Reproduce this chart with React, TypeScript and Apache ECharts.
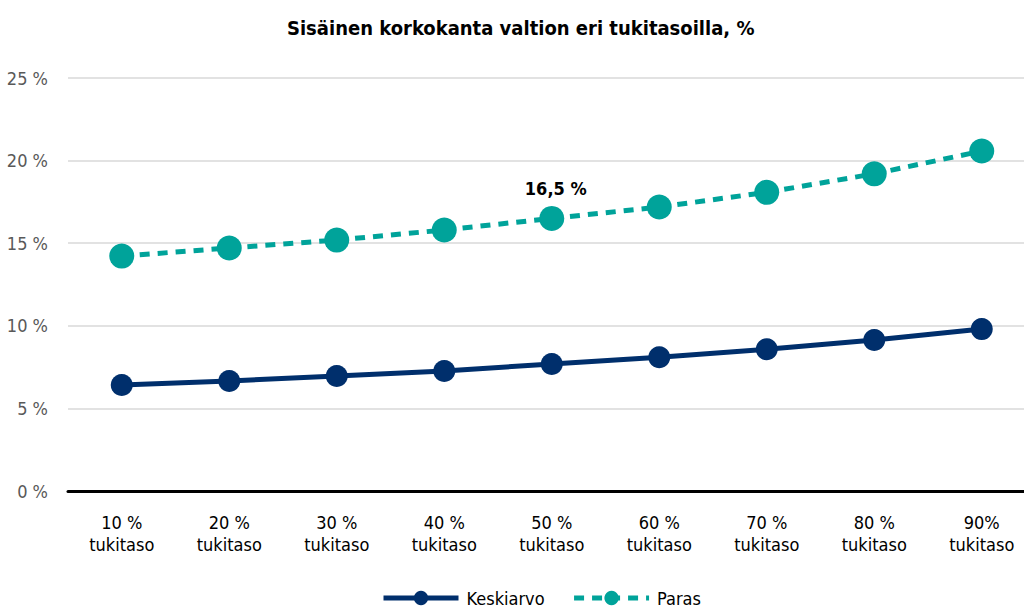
import React, { useEffect, useRef } from "react";
import * as echarts from "echarts";

const categories = [
  "10 %\ntukitaso",
  "20 %\ntukitaso",
  "30 %\ntukitaso",
  "40 %\ntukitaso",
  "50 %\ntukitaso",
  "60 %\ntukitaso",
  "70 %\ntukitaso",
  "80 %\ntukitaso",
  "90%\ntukitaso",
];
const keskiarvo = [6.42, 6.66, 6.96, 7.26, 7.69, 8.1, 8.58, 9.14, 9.8];
const paras = [14.22, 14.71, 15.19, 15.8, 16.5, 17.19, 18.08, 19.2, 20.58];
const labelIndex = 4;
const yTicks = [0, 5, 10, 15, 20, 25];

const FONT = '"DejaVu Sans Condensed", "Liberation Sans Narrow", "Roboto", sans-serif';

export default function App() {
  const ref = useRef<HTMLDivElement>(null);
  useEffect(() => {
    if (!ref.current) return;
    const chart = echarts.init(ref.current, undefined, { renderer: "svg" });
    chart.setOption({
      animation: false,
      textStyle: { fontFamily: FONT },
      title: {
        text: "Sisäinen korkokanta valtion eri tukitasoilla, %",
        left: 282,
        top: 13,
        textStyle: { fontFamily: FONT, fontWeight: "bold", fontSize: 20, color: "#000" },
      },
      legend: {
        bottom: 0,
        left: 376,
        itemWidth: 75,
        itemHeight: 18,
        itemGap: 27,
        lineStyle: { width: 5 },
        textStyle: { fontFamily: FONT, fontSize: 18, color: "#000", padding: [0, 0, 0, 3] },
        data: ["Keskiarvo", "Paras"],
      },
      grid: { left: 68, top: 78, right: 4.5, height: 413, containLabel: false },
      xAxis: {
        type: "category",
        data: categories,
        boundaryGap: true,
        axisLine: { show: true, lineStyle: { color: "#000", width: 3 } },
        axisTick: { show: false },
        axisLabel: {
          fontFamily: FONT,
          fontSize: 18,
          color: "#000",
          lineHeight: 22,
          margin: 20,
          interval: 0,
        },
      },
      yAxis: {
        type: "value",
        min: yTicks[0],
        max: yTicks[yTicks.length - 1],
        interval: 5,
        axisLine: { show: false },
        axisTick: { show: false },
        splitLine: { lineStyle: { color: "#d9d9d9", width: 1.5 } },
        axisLabel: {
          fontFamily: FONT,
          fontSize: 18,
          color: "#595959",
          margin: 20,
          formatter: (v: number) => `${v} %`,
        },
      },
      series: [
        {
          name: "Keskiarvo",
          type: "line",
          data: keskiarvo,
          symbol: "circle",
          symbolSize: 22,
          itemStyle: { color: "#002f6c" },
          lineStyle: { color: "#002f6c", width: 5 },
          z: 3,
        },
        {
          name: "Paras",
          type: "line",
          data: paras.map((v, i) =>
            i === labelIndex
              ? {
                  value: v,
                  label: {
                    show: true,
                    position: "top",
                    distance: 8,
                    offset: [4, 0],
                    formatter: (p: any) => `${String(p.value).replace(".", ",")} %`,
                    fontFamily: FONT,
                    fontWeight: "bold",
                    fontSize: 18,
                    color: "#000",
                  },
                }
              : v
          ),
          symbol: "circle",
          symbolSize: 25,
          itemStyle: { color: "#00a39a" },
          lineStyle: { color: "#00a39a", width: 5, type: [10, 8] },
          z: 4,
        },
      ],
    });
    return () => chart.dispose();
  }, []);
  return (
    <div
      style={{
        position: "fixed",
        left: 0,
        top: 0,
        width: 1024,
        height: 612,
        overflow: "hidden",
        background: "#fff",
      }}
    >
      <div ref={ref} style={{ width: 1040, height: 612 }} />
    </div>
  );
}
